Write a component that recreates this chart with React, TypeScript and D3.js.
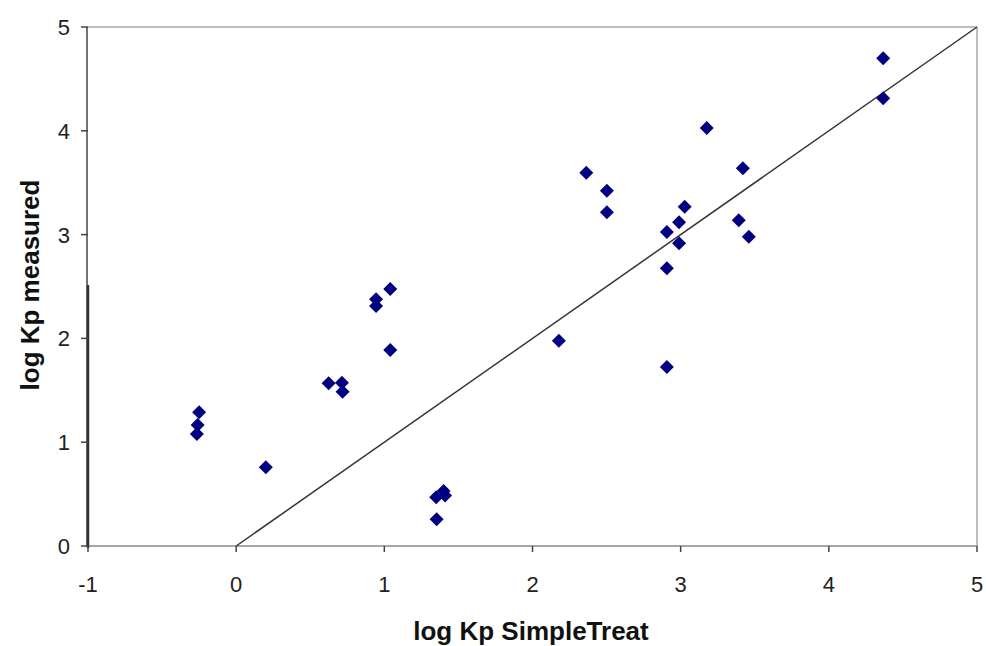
import React from "react";
import * as d3 from "d3";

const simpleTreat: number[] = [
  -0.25, -0.26, -0.265, 0.2, 0.624, 0.714, 0.718, 0.944, 0.944, 1.04, 1.04,
  1.35, 1.4, 1.41, 1.353, 2.178, 2.363, 2.502, 2.502, 3.027, 2.989, 2.907,
  2.989, 2.907, 2.907, 3.176, 3.42, 3.392, 3.46, 4.367, 4.367,
];
const measured: number[] = [
  1.288, 1.166, 1.08, 0.758, 1.567, 1.573, 1.486, 2.377, 2.312, 2.476, 1.888,
  0.469, 0.53, 0.487, 0.257, 1.978, 3.596, 3.423, 3.215, 3.269, 3.118, 3.025,
  2.916, 2.675, 1.724, 4.027, 3.639, 3.138, 2.98, 4.698, 4.313,
];
const xTicks: number[] = [-1, 0, 1, 2, 3, 4, 5];
const yTicks: number[] = [0, 1, 2, 3, 4, 5];
const lineX: number[] = [0, 5];
const lineY: number[] = [0, 5];
const xTitle = "log Kp SimpleTreat";
const yTitle = "log Kp measured";

export default function App() {
  const W = 986;
  const H = 646;
  const left = 88;
  const right = 977;
  const top = 27;
  const bottom = 546;
  const x = d3.scaleLinear().domain([-1, 5]).range([left, right]);
  const y = d3.scaleLinear().domain([0, 5]).range([bottom, top]);
  const font = "'Liberation Sans', Arial, sans-serif";
  const line = d3
    .line<number>()
    .x((_, i) => x(lineX[i]))
    .y((_, i) => y(lineY[i]));
  const sym = d3.symbol(d3.symbolSquare, 98)();
  const pts = simpleTreat.map((v, i) => [v, measured[i]]);

  return (
    <svg
      width={W}
      height={H}
      style={{ position: "absolute", left: 0, top: 0, background: "#fff" }}
    >
      {/* plot frame */}
      <line x1={left} x2={right} y1={top} y2={top} stroke="#a8a8a8" strokeWidth={1.5} />
      <line x1={right} x2={right} y1={top} y2={bottom} stroke="#a8a8a8" strokeWidth={1.5} />
      <line x1={left} x2={right} y1={bottom} y2={bottom} stroke="#8a8a8a" strokeWidth={1.5} />
      {/* left axis */}
      <line x1={left - 1} x2={left - 1} y1={top} y2={bottom} stroke="#444" strokeWidth={1.5} />
      <line x1={left} x2={left} y1={285} y2={bottom + 2} stroke="#333" strokeWidth={2.5} />
      {yTicks.map((t) => (
        <g key={"y" + t}>
          <line x1={left - 7} x2={left} y1={y(t)} y2={y(t)} stroke="#444" strokeWidth={1.5} />
          <text
            x={70}
            y={y(t)}
            dy="0.36em"
            textAnchor="end"
            fontFamily={font}
            fontSize={22}
            fill="#222"
          >
            {t}
          </text>
        </g>
      ))}
      {xTicks.map((t) => (
        <g key={"x" + t}>
          <line x1={x(t)} x2={x(t)} y1={bottom} y2={bottom + 6} stroke="#444" strokeWidth={1.5} />
          <text
            x={x(t)}
            y={592}
            textAnchor="middle"
            fontFamily={font}
            fontSize={22}
            fill="#222"
          >
            {t}
          </text>
        </g>
      ))}
      {/* 1:1 line */}
      <path d={line(lineX) || ""} fill="none" stroke="#333" strokeWidth={1.5} />
      {/* points */}
      {pts.map((p, i) => (
        <path
          key={i}
          d={sym || ""}
          transform={`translate(${x(p[0])},${y(p[1])}) rotate(45)`}
          fill="#000080"
        />
      ))}
      <text
        x={531}
        y={640}
        textAnchor="middle"
        fontFamily={font}
        fontSize={26}
        fontWeight="bold"
        fill="#111"
      >
        {xTitle}
      </text>
      <text
        transform={`translate(39,${285}) rotate(-90)`}
        textAnchor="middle"
        fontFamily={font}
        fontSize={26}
        fontWeight="bold"
        fill="#111"
      >
        {yTitle}
      </text>
    </svg>
  );
}
